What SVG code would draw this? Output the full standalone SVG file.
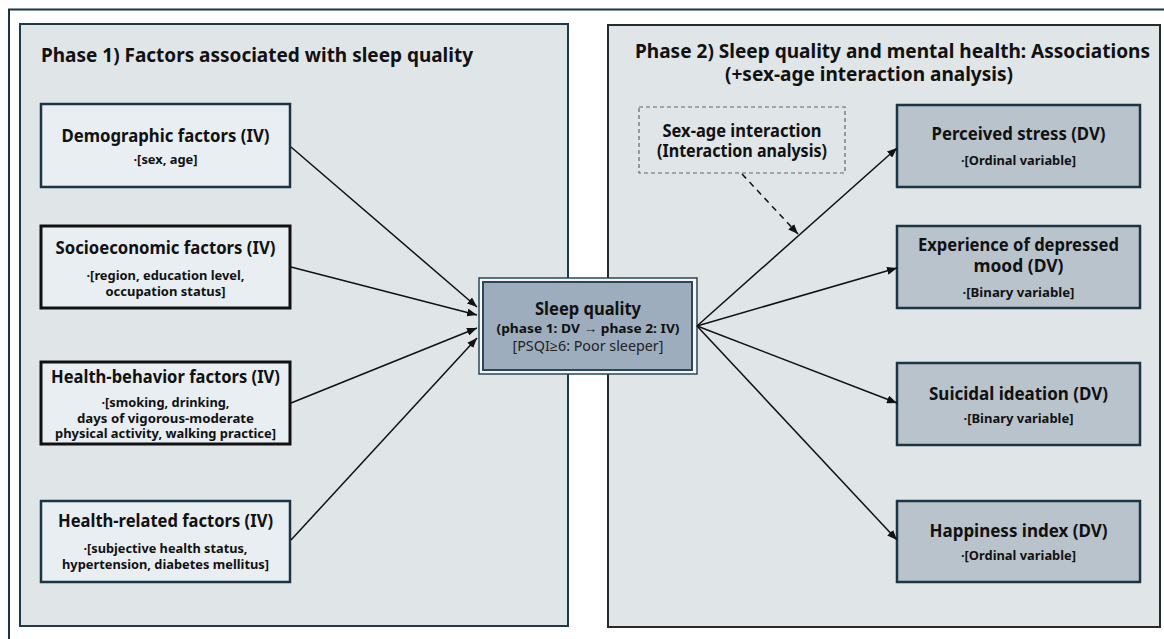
<svg xmlns="http://www.w3.org/2000/svg" width="1164" height="639" viewBox="0 0 1164 639">
<style>
text{font-family:"Noto Sans","Open Sans","Liberation Sans",sans-serif;fill:#111;text-anchor:middle}
.ph{font-size:19.5px;font-weight:700;text-anchor:start}
.ph2{font-size:19.5px;font-weight:700}
.t{font-size:17px;font-weight:700}
.s{font-size:13px;font-weight:700}
.iv{fill:#e8eef2;stroke:#1b3545;stroke-width:2.5}
.ivk{fill:#e8eef2;stroke:#111;stroke-width:3}
.dv{fill:#b9c3cc;stroke:#1b3545;stroke-width:2.5}
.ln{stroke:#111;stroke-width:1.5;fill:none}
</style>
<defs>
<marker id="ah" markerUnits="userSpaceOnUse" markerWidth="10" markerHeight="8" refX="10" refY="4" orient="auto">
<path d="M0,0 L10,4 L0,8 z" fill="#111"/>
</marker>
</defs>
<rect width="1164" height="639" fill="#fff"/>
<path d="M9,639 V9.5 H1164" fill="none" stroke="#1c3342" stroke-width="2"/>
<g id="phase1">
<rect x="20" y="24" width="548" height="602" fill="#e0e5e7" stroke="#1e3a4b" stroke-width="2"/>
<text class="ph" x="41" y="62" textLength="432" lengthAdjust="spacingAndGlyphs">Phase 1) Factors associated with sleep quality</text>
</g>
<g id="phase2">
<rect x="608" y="25" width="552" height="602" fill="#e0e5e7" stroke="#2a2a2a" stroke-width="2"/>
<text class="ph" x="635" y="58" textLength="515" lengthAdjust="spacingAndGlyphs">Phase 2) Sleep quality and mental health: Associations</text>
<text class="ph2" x="869" y="81" textLength="288" lengthAdjust="spacingAndGlyphs">(+sex-age interaction analysis)</text>
</g>
<g id="demographic">
<rect class="iv" x="41" y="104" width="249" height="83"/>
<text class="t" x="165.5" y="142" textLength="208" lengthAdjust="spacingAndGlyphs">Demographic factors (IV)</text>
<text class="s" x="165.5" y="164" textLength="64" lengthAdjust="spacingAndGlyphs">·[sex, age]</text>
</g>
<g id="socioeconomic">
<rect class="ivk" x="41" y="226" width="249" height="82"/>
<text class="t" x="165.5" y="254" textLength="220" lengthAdjust="spacingAndGlyphs">Socioeconomic factors (IV)</text>
<text class="s" x="165.5" y="280" textLength="158" lengthAdjust="spacingAndGlyphs">·[region, education level,</text>
<text class="s" x="165.5" y="296" textLength="120" lengthAdjust="spacingAndGlyphs">occupation status]</text>
</g>
<g id="healthbehavior">
<rect class="ivk" x="41" y="362" width="249" height="82"/>
<text class="t" x="165.5" y="383" textLength="229" lengthAdjust="spacingAndGlyphs">Health-behavior factors (IV)</text>
<text class="s" x="165.5" y="407" textLength="128" lengthAdjust="spacingAndGlyphs">·[smoking, drinking,</text>
<text class="s" x="165.5" y="423" textLength="177" lengthAdjust="spacingAndGlyphs">days of vigorous-moderate</text>
<text class="s" x="165.5" y="438" textLength="221" lengthAdjust="spacingAndGlyphs">physical activity, walking practice]</text>
</g>
<g id="healthrelated">
<rect class="iv" x="41" y="501" width="249" height="81"/>
<text class="t" x="165.5" y="527" textLength="215" lengthAdjust="spacingAndGlyphs">Health-related factors (IV)</text>
<text class="s" x="165.5" y="553" textLength="164" lengthAdjust="spacingAndGlyphs">·[subjective health status,</text>
<text class="s" x="165.5" y="569" textLength="207" lengthAdjust="spacingAndGlyphs">hypertension, diabetes mellitus]</text>
</g>
<g id="sleepquality">
<rect x="479" y="278" width="218" height="96" fill="#f4f6f7" stroke="#2b4758" stroke-width="1.5"/>
<rect x="483" y="282" width="209" height="88" fill="#9dadbd" stroke="#2b4758" stroke-width="2"/>
<text class="t" x="588" y="315" textLength="106" lengthAdjust="spacingAndGlyphs">Sleep quality</text>
<text class="s" x="588" y="333" textLength="183" lengthAdjust="spacingAndGlyphs">(phase 1: DV → phase 2: IV)</text>
<text x="588" y="351" style="font-size:14px;fill:#222" textLength="151" lengthAdjust="spacingAndGlyphs">[PSQI≥6: Poor sleeper]</text>
</g>
<g id="interaction">
<rect x="639" y="107" width="206" height="66" fill="none" stroke="#666" stroke-width="1.2" stroke-dasharray="4,3"/>
<text class="t" x="742" y="137" textLength="159" lengthAdjust="spacingAndGlyphs">Sex-age interaction</text>
<text class="t" x="742" y="157" textLength="170" lengthAdjust="spacingAndGlyphs">(Interaction analysis)</text>
</g>
<g id="stress">
<rect class="dv" x="897" y="105" width="243" height="82"/>
<text class="t" x="1018.5" y="140" textLength="174" lengthAdjust="spacingAndGlyphs">Perceived stress (DV)</text>
<text class="s" x="1018.5" y="165" textLength="115" lengthAdjust="spacingAndGlyphs">·[Ordinal variable]</text>
</g>
<g id="depressed">
<rect class="dv" x="897" y="226" width="243" height="82"/>
<text class="t" x="1018.5" y="251" textLength="201" lengthAdjust="spacingAndGlyphs">Experience of depressed</text>
<text class="t" x="1018.5" y="272" textLength="90" lengthAdjust="spacingAndGlyphs">mood (DV)</text>
<text class="s" x="1018.5" y="297" textLength="112" lengthAdjust="spacingAndGlyphs">·[Binary variable]</text>
</g>
<g id="suicidal">
<rect class="dv" x="897" y="363" width="243" height="82"/>
<text class="t" x="1018.5" y="400" textLength="179" lengthAdjust="spacingAndGlyphs">Suicidal ideation (DV)</text>
<text class="s" x="1018.5" y="423" textLength="110" lengthAdjust="spacingAndGlyphs">·[Binary variable]</text>
</g>
<g id="happiness">
<rect class="dv" x="897" y="501" width="243" height="81"/>
<text class="t" x="1018.5" y="537" textLength="178" lengthAdjust="spacingAndGlyphs">Happiness index (DV)</text>
<text class="s" x="1018.5" y="560" textLength="115" lengthAdjust="spacingAndGlyphs">·[Ordinal variable]</text>
</g>
<g id="connectors">
<line class="ln" x1="291" y1="147" x2="477" y2="307" marker-end="url(#ah)"/>
<line class="ln" x1="291" y1="267" x2="477" y2="315" marker-end="url(#ah)"/>
<line class="ln" x1="291" y1="403" x2="477" y2="328" marker-end="url(#ah)"/>
<line class="ln" x1="291" y1="540" x2="477" y2="338" marker-end="url(#ah)"/>
<line class="ln" x1="697" y1="326" x2="897" y2="148" marker-end="url(#ah)"/>
<line class="ln" x1="697" y1="326" x2="897" y2="268" marker-end="url(#ah)"/>
<line class="ln" x1="697" y1="326" x2="897" y2="403" marker-end="url(#ah)"/>
<line class="ln" x1="697" y1="326" x2="897" y2="540" marker-end="url(#ah)"/>
<line class="ln" x1="742" y1="174" x2="798" y2="234" stroke-dasharray="6,5" marker-end="url(#ah)"/>
</g>
</svg>
